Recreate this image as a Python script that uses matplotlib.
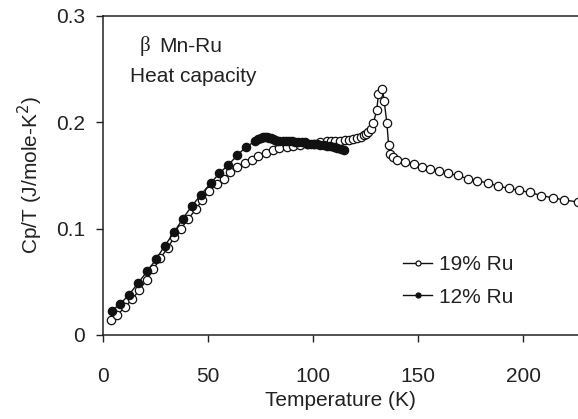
import matplotlib
matplotlib.use("Agg")
import matplotlib.pyplot as plt

# 19% Ru (open circles)
t19 = [3.8, 6.8, 10.5, 14.0, 17.3, 20.8, 24.0, 27.3, 30.8, 34.0, 37.1, 40.6, 44.1,
       47.3, 50.5, 54.1, 57.6, 60.5, 64.0, 67.5, 70.8, 74.0, 77.5, 80.8, 84.0, 87.5,
       90.6, 94.0, 97.3, 100.5, 103.5, 106.5, 108.5, 110.5, 112.9, 115.0, 117.0, 119.2,
       121.0, 122.6, 124.0, 125.3, 126.3, 127.5, 128.7, 130.3, 131.1, 133.0, 133.8,
       135.1, 135.9, 136.7, 138.0, 139.7, 143.8, 147.8, 151.7, 155.7, 160.0, 164.4,
       168.7, 173.5, 177.9, 183.0, 187.8, 193.0, 197.8, 203.3, 208.6, 214.1, 219.5, 226.0]
c19 = [0.014, 0.019, 0.026, 0.034, 0.042, 0.052, 0.062, 0.072, 0.082, 0.092, 0.100, 0.109, 0.118,
       0.127, 0.135, 0.142, 0.147, 0.153, 0.158, 0.162, 0.165, 0.168, 0.171, 0.174, 0.176, 0.177,
       0.178, 0.179, 0.180, 0.180, 0.181, 0.182, 0.182, 0.182, 0.182, 0.183, 0.183, 0.184,
       0.185, 0.186, 0.188, 0.189, 0.191, 0.194, 0.199, 0.212, 0.227, 0.231, 0.220,
       0.199, 0.179, 0.170, 0.167, 0.165, 0.163, 0.161, 0.158, 0.156, 0.154, 0.152,
       0.150, 0.147, 0.145, 0.143, 0.140, 0.138, 0.136, 0.134, 0.131, 0.129, 0.127, 0.125]

# 12% Ru (filled circles)
t12 = [4.1, 8.1, 12.5, 16.8, 21.1, 25.2, 29.5, 34.0, 37.9, 42.2, 46.7, 51.4, 55.4,
       59.7, 64.0, 68.1, 72.4, 74.0, 75.0, 76.0, 77.0, 78.0, 79.0, 80.0, 81.0, 82.0,
       83.0, 84.0, 85.5, 87.0, 88.5, 90.0, 91.5, 93.0, 94.5, 96.0, 97.5, 99.0, 100.5,
       102.0, 103.5, 105.0, 106.5, 108.0, 109.7, 111.5, 113.2, 114.8]
c12 = [0.0226, 0.029, 0.038, 0.049, 0.060, 0.071, 0.084, 0.097, 0.109, 0.121, 0.132, 0.143, 0.152,
       0.160, 0.169, 0.177, 0.182, 0.184, 0.185, 0.186, 0.186, 0.186, 0.185, 0.185, 0.184, 0.183,
       0.182, 0.182, 0.182, 0.182, 0.182, 0.182, 0.181, 0.181, 0.181, 0.181, 0.180, 0.180, 0.180,
       0.180, 0.179, 0.179, 0.178, 0.178, 0.177, 0.176, 0.175, 0.174]

plt.rcParams['font.family'] = ['Liberation Sans', 'DejaVu Sans']
txt = '#222222'

fig = plt.figure(figsize=(5.78, 4.19), dpi=100)
ax = fig.add_axes([0.178, 0.2005, 0.822, 0.7615])

ax.plot(t19, c19, '-o', color='#111111', lw=1.0, ms=6, mfc='white', mec='#111111',
        mew=0.9, label='19% Ru')
ax.plot(t12, c12, '-o', color='#111111', lw=1.0, ms=6, mfc='#111111', mec='#111111',
        mew=0.9, label='12% Ru')

ax.set_xlim(0, 226)
ax.set_ylim(0, 0.3)
ax.set_xticks([0, 50, 100, 150, 200])
ax.set_yticks([0, 0.1, 0.2, 0.3])
ax.set_yticklabels(['0', '0.1', '0.2', '0.3'])
ax.tick_params(direction='out', length=5, width=1, labelsize=15, colors='#222222',
               labelcolor=txt)
ax.tick_params(axis='y', pad=8)
ax.tick_params(axis='x', pad=18)
ax.spines['right'].set_visible(False)
for s in ['left', 'bottom', 'top']:
    ax.spines[s].set_linewidth(1.1)
    ax.spines[s].set_color('#222222')

ax.set_xlabel('Temperature (K)', fontsize=15, color=txt, labelpad=4)
ax.set_ylabel('Cp/T (J/mole-K$^2$)', fontsize=15, color=txt, labelpad=8)

ax.text(0.078, 0.905, '\u03b2', transform=ax.transAxes, fontsize=15, color=txt,
        family='Liberation Serif', va='center')
ax.text(0.118, 0.905, 'Mn-Ru', transform=ax.transAxes, fontsize=15, color=txt, va='center')
ax.text(0.058, 0.81, 'Heat capacity', transform=ax.transAxes, fontsize=15, color=txt,
        va='center')

leg = ax.legend(loc='center left', bbox_to_anchor=(0.61, 0.17), frameon=False,
                fontsize=15, markerscale=0.6, handlelength=1.4, handletextpad=0.3,
                labelspacing=0.65, borderpad=0)
for t in leg.get_texts():
    t.set_color(txt)

fig.savefig('out.png', dpi=100)
